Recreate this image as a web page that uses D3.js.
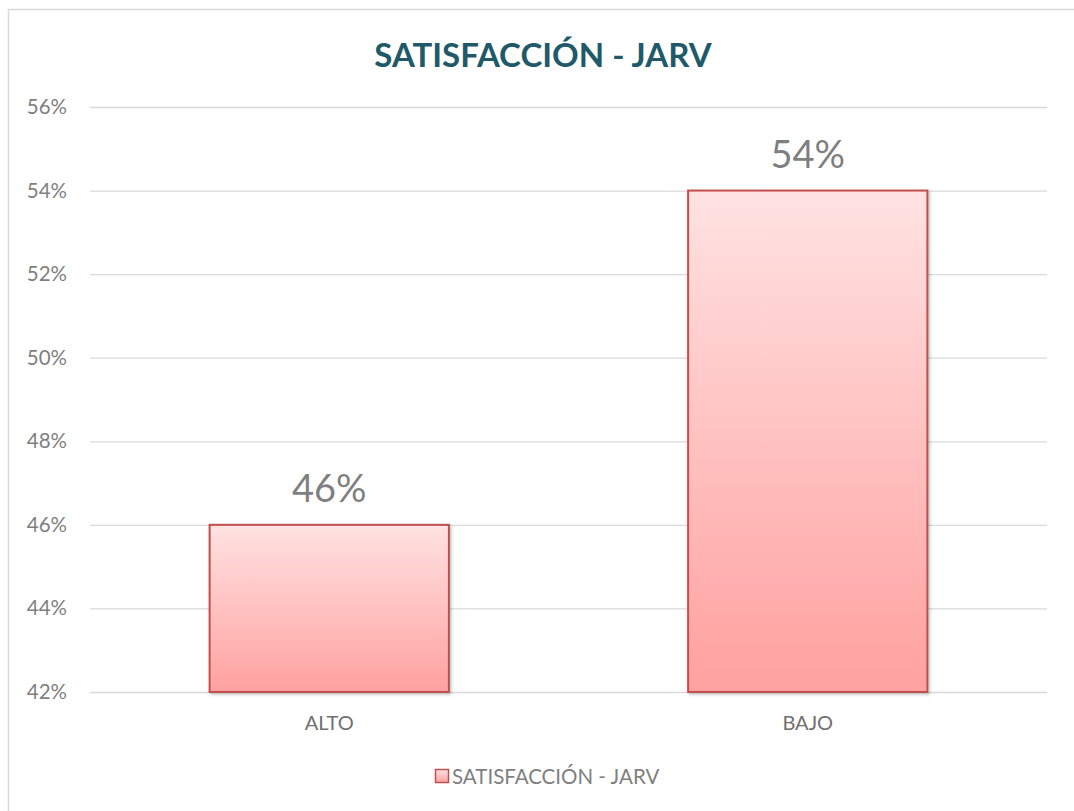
<!DOCTYPE html>
<html>
<head>
<meta charset="utf-8">
<script src="https://cdn.jsdelivr.net/npm/d3@7"></script>
<style>
  body { margin: 0; background: #fff; }
  text { font-family: Lato, "Noto Sans", sans-serif; }
</style>
</head>
<body>
<div id="chart-area"></div>
<script>
const categories = ["ALTO", "BAJO"]
const values = [0.46, 0.54]
const yTicks = [0.42, 0.44, 0.46, 0.48, 0.50, 0.52, 0.54, 0.56]
const seriesName = "SATISFACCIÓN - JARV"

const W = 1074
const H = 811
const MARGIN = { LEFT: 90, RIGHT: 27, TOP: 107, BOTTOM: 119 }
const WIDTH = W - MARGIN.LEFT - MARGIN.RIGHT
const HEIGHT = H - MARGIN.TOP - MARGIN.BOTTOM

const svg = d3.select("#chart-area").append("svg")
	.attr("width", W)
	.attr("height", H)

// gradient for bars
const defs = svg.append("defs")
const grad = defs.append("linearGradient")
	.attr("id", "barGrad")
	.attr("x1", 0).attr("y1", 0).attr("x2", 0).attr("y2", 1)
grad.append("stop").attr("offset", "0%").attr("stop-color", "#ffe2e2")
grad.append("stop").attr("offset", "100%").attr("stop-color", "#ffa19f")

const shadow = defs.append("filter").attr("id", "shadow")
	.attr("x", "-5%").attr("y", "-5%").attr("width", "115%").attr("height", "115%")
shadow.append("feDropShadow")
	.attr("dx", 1.5).attr("dy", 1.5).attr("stdDeviation", 1.5)
	.attr("flood-color", "#000").attr("flood-opacity", 0.25)

// chart frame
svg.append("rect")
	.attr("x", 8.5).attr("y", 9.5)
	.attr("width", W + 20).attr("height", H + 20)
	.attr("fill", "none")
	.attr("stroke", "#d9d9d9")
	.attr("stroke-width", 1.5)

// title
svg.append("text")
	.attr("x", 543)
	.attr("y", 67)
	.attr("text-anchor", "middle")
	.attr("font-size", "33px")
	.attr("font-weight", "bold")
	.attr("fill", "#215968")
	.text(seriesName)

const g = svg.append("g")
	.attr("transform", `translate(${MARGIN.LEFT}, ${MARGIN.TOP})`)

const x = d3.scaleBand()
	.domain(categories)
	.range([0, WIDTH])
	.paddingInner(0.5)
	.paddingOuter(0.25)

const y = d3.scaleLinear()
	.domain([0.42, 0.56])
	.range([HEIGHT, 0])

// gridlines
const yAxisCall = d3.axisLeft(y)
	.tickValues(yTicks)
	.tickSize(-WIDTH)
	.tickPadding(23)
	.tickFormat(d3.format(".0%"))

const yAxisGroup = g.append("g")
	.attr("class", "y axis")
	.call(yAxisCall)
yAxisGroup.select(".domain").remove()
yAxisGroup.selectAll("line")
	.attr("stroke", "#d9d9d9")
	.attr("stroke-width", 1.3)
yAxisGroup.selectAll("text")
	.attr("font-size", "20.5px")
	.attr("fill", "#7f7f7f")
	.style("font-family", "Lato, 'Noto Sans', sans-serif")

// x axis labels
const xAxisCall = d3.axisBottom(x).tickSize(0).tickPadding(24)
const xAxisGroup = g.append("g")
	.attr("class", "x axis")
	.attr("transform", `translate(0, ${HEIGHT})`)
	.call(xAxisCall)
xAxisGroup.select(".domain").remove()
xAxisGroup.selectAll("text")
	.attr("font-size", "20px")
	.attr("fill", "#6f6f6f")
	.style("font-family", "Lato, 'Noto Sans', sans-serif")

// bars
g.selectAll("rect.bar")
	.data(values)
	.enter().append("rect")
	.attr("class", "bar")
	.attr("x", (d, i) => x(categories[i]))
	.attr("y", d => y(d))
	.attr("width", x.bandwidth())
	.attr("height", d => HEIGHT - y(d))
	.attr("fill", "url(#barGrad)")
	.attr("stroke", "#c0504d")
	.attr("stroke-width", 2)
	.attr("filter", "url(#shadow)")

// data labels
g.selectAll("text.label")
	.data(values)
	.enter().append("text")
	.attr("class", "label")
	.attr("x", (d, i) => x(categories[i]) + x.bandwidth() / 2)
	.attr("y", d => y(d) - 23)
	.attr("text-anchor", "middle")
	.attr("font-size", "38px")
	.attr("fill", "#7f7f7f")
	.text(d => d3.format(".0%")(d))

// legend
const legend = svg.append("g")
	.attr("transform", "translate(435, 769)")
legend.append("rect")
	.attr("x", 0.5).attr("y", 0.5)
	.attr("width", 13).attr("height", 13)
	.attr("fill", "url(#barGrad)")
	.attr("stroke", "#c0504d")
	.attr("stroke-width", 1.5)
legend.append("text")
	.attr("x", 17)
	.attr("y", 15)
	.attr("font-size", "20.5px")
	.attr("fill", "#7f7f7f")
	.text(seriesName)
</script>
</body>
</html>
